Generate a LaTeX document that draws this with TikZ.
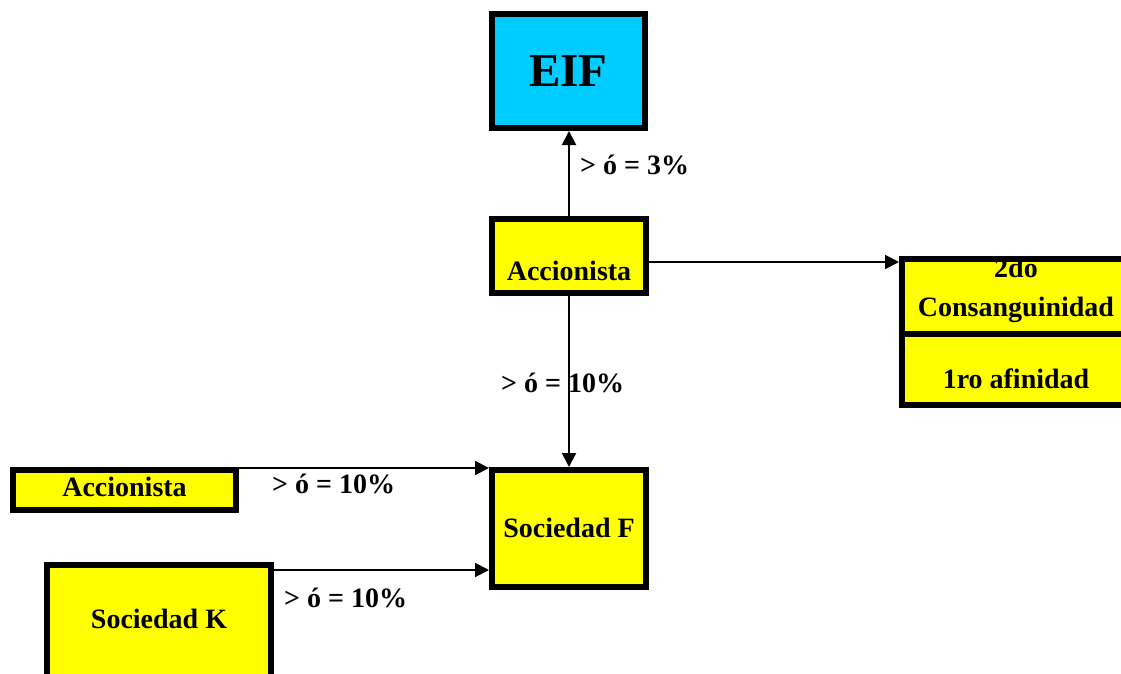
\documentclass[tikz,border=0pt]{standalone}
\usepackage{fontspec}
\setmainfont{Liberation Serif}
\usetikzlibrary{arrows.meta}
\definecolor{boxyellow}{RGB}{255,255,0}
\definecolor{boxcyan}{RGB}{0,204,255}
\tikzset{
  box/.style={draw=black, line width=6pt, fill=boxyellow, rectangle, inner sep=0pt,
    font=\fontsize{28}{39}\selectfont\bfseries, align=center, text depth=0pt},
  conn/.style={draw=black, line width=2pt, -{Triangle[length=14pt,width=14pt]}},
  lbl/.style={inner sep=0pt, anchor=base west, font=\fontsize{28}{33}\selectfont\bfseries},
}
\begin{document}
\begin{tikzpicture}[x=1pt,y=-1pt]
\useasboundingbox (0,0) rectangle (1121,674);
% boxes
\node[box, fill=boxcyan, minimum width=153pt, minimum height=114pt, text height=32pt,
      font=\fontsize{47}{50}\selectfont\bfseries] (eif) at (568.5,71) {EIF};
\node[box, minimum width=154pt, minimum height=74pt, text height=48pt] (acc1) at (569,256) {Accionista};
\node[box, minimum width=228pt, minimum height=74.5pt, text height=39.5pt] (rel1) at (1016,296.25)
  {2do\\Consanguinidad};
\node[box, minimum width=228pt, minimum height=71.5pt, text height=37.5pt] (rel2) at (1016,369.25) {1ro afinidad};
\draw[line width=6pt] ([yshift=-3pt]rel1.north west) -- ([yshift=-3pt]rel1.north east);
\node[box, minimum width=154pt, minimum height=117pt, text height=17pt] (socf) at (569,528.5) {Sociedad F};
\node[box, minimum width=223pt, minimum height=40pt, text height=12pt] (acc2) at (124.5,490) {Accionista};
\node[box, minimum width=224pt, minimum height=132pt, text height=0pt, text depth=6pt] (sock) at (159,631) {Sociedad K};
% connectors
\draw[conn] (acc1.north) -- (acc1.north |- eif.south);
\draw[conn] ([yshift=-6pt]acc1.east) -- ([yshift=-6pt]acc1.east -| rel1.west);
\draw[conn] (acc1.south) -- (acc1.south |- socf.north);
\draw[conn] ([yshift=-1pt]acc2.north east) -- ([yshift=-1pt]acc2.north east -| socf.west);
\draw[conn] ([yshift=-8pt]sock.north east) -- ([yshift=-8pt]sock.north east -| socf.west);
% labels
\node[lbl] (l1) at (580,174) {> ó = 3\%};
\node[lbl] (l2) at (501,392) {> ó = 10\%};
\node[lbl] (l3) at (272,493) {> ó = 10\%};
\node[lbl] (l4) at (284,607) {> ó = 10\%};
\end{tikzpicture}
\end{document}
